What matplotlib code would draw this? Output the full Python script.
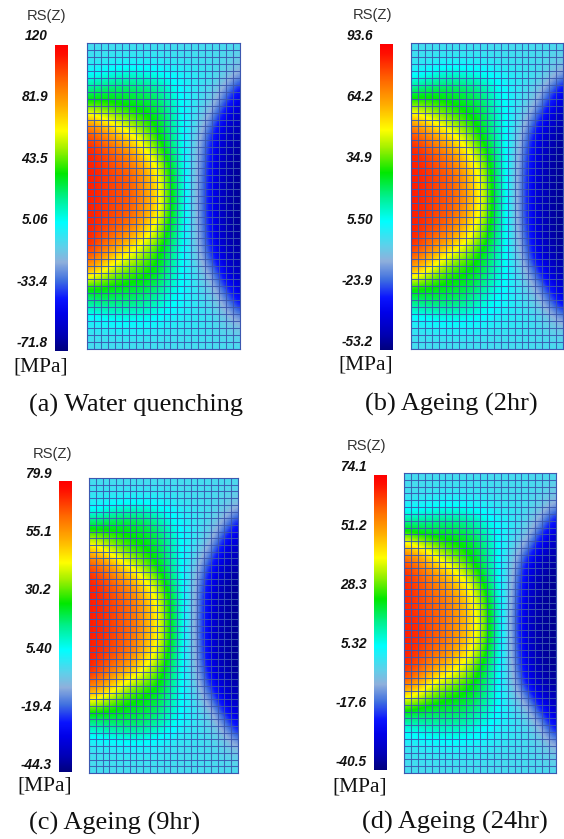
import numpy as np
import matplotlib
matplotlib.use("Agg")
import matplotlib.pyplot as plt
from matplotlib.colors import LinearSegmentedColormap

W, H = 564, 839

captions = ["(a) Water quenching", "(b) Ageing (2hr)", "(c) Ageing (9hr)", "(d) Ageing (24hr)"]
ticks_a = ["120", "81.9", "43.5", "5.06", "-33.4", "-71.8"]
ticks_b = ["93.6", "64.2", "34.9", "5.50", "-23.9", "-53.2"]
ticks_c = ["79.9", "55.1", "30.2", "5.40", "-19.4", "-44.3"]
ticks_d = ["74.1", "51.2", "28.3", "5.32", "-17.6", "-40.5"]
ranges = [(-71.8, 120.0), (-53.2, 93.6), (-44.3, 79.9), (-40.5, 74.1)]

# Field, as percent of each panel's colour scale (top row first)
field_a = [
    [36, 36, 36, 36, 36, 36, 36, 36, 36, 36, 36, 36],
    [37, 37, 38, 38, 38, 38, 37, 37, 36, 36, 35, 33],
    [41, 42, 44, 45, 44, 43, 41, 40, 38, 37, 34, 28],
    [50, 52, 53, 53, 52, 50, 45, 40, 37, 35, 27, 15],
    [60, 60, 58, 57, 56, 54, 48, 41, 37, 32, 19, 9],
    [80, 74, 68, 64, 60, 57, 50, 41, 35, 25, 11, 6],
    [92, 87, 80, 74, 67, 59, 51, 42, 32, 18, 8, 4],
    [96, 92, 88, 83, 74, 64, 53, 42, 30, 15, 6, 3],
    [96, 94, 90, 88, 81, 72, 56, 43, 29, 14, 5, 2],
    [96, 94, 91, 90, 84, 76, 58, 44, 28, 13, 5, 2],
    [96, 94, 91, 90, 84, 77, 59, 44, 28, 13, 5, 2],
    [96, 94, 91, 90, 84, 76, 58, 44, 28, 13, 5, 2],
    [96, 93, 90, 87, 80, 71, 56, 43, 29, 14, 5, 2],
    [96, 90, 85, 80, 72, 64, 53, 42, 30, 15, 6, 3],
    [91, 85, 76, 70, 64, 59, 51, 41, 32, 19, 8, 4],
    [80, 72, 65, 62, 60, 57, 49, 41, 35, 26, 11, 6],
    [58, 58, 57, 56, 55, 52, 46, 41, 37, 32, 19, 9],
    [49, 51, 51, 51, 50, 47, 43, 40, 37, 35, 27, 15],
    [40, 41, 43, 43, 43, 42, 40, 39, 38, 37, 33, 26],
    [37, 37, 38, 38, 38, 38, 37, 37, 37, 36, 35, 34],
    [36, 36, 36, 36, 36, 36, 36, 36, 36, 36, 36, 36],
]
field_b = [
    [36, 36, 36, 36, 36, 36, 36, 36, 36, 36, 36, 36],
    [37, 37, 38, 38, 38, 38, 37, 37, 36, 36, 35, 33],
    [40, 41, 44, 45, 44, 43, 41, 39, 38, 37, 34, 27],
    [50, 53, 54, 54, 53, 50, 45, 40, 37, 34, 25, 13],
    [63, 62, 60, 58, 56, 54, 47, 41, 36, 30, 17, 8],
    [80, 74, 68, 64, 60, 56, 49, 41, 34, 22, 10, 5],
    [92, 86, 80, 73, 66, 58, 50, 41, 30, 15, 7, 3],
    [96, 92, 87, 82, 73, 63, 52, 41, 27, 12, 5, 2],
    [96, 94, 90, 87, 79, 69, 54, 41, 25, 11, 4, 2],
    [96, 94, 91, 89, 82, 72, 55, 41, 24, 10, 4, 2],
    [96, 94, 91, 89, 83, 73, 56, 41, 24, 10, 4, 2],
    [96, 94, 91, 89, 82, 72, 55, 41, 24, 10, 4, 2],
    [96, 93, 90, 86, 79, 68, 54, 41, 25, 11, 4, 2],
    [96, 90, 85, 80, 72, 63, 52, 41, 27, 12, 5, 2],
    [90, 84, 76, 68, 63, 57, 50, 41, 30, 15, 7, 3],
    [80, 72, 64, 60, 58, 55, 48, 41, 34, 22, 10, 5],
    [58, 58, 57, 56, 55, 51, 45, 41, 36, 30, 17, 8],
    [50, 52, 52, 52, 50, 46, 42, 40, 37, 34, 25, 13],
    [40, 41, 43, 43, 43, 42, 40, 39, 38, 37, 33, 26],
    [37, 37, 38, 38, 38, 38, 37, 37, 37, 36, 35, 34],
    [36, 36, 36, 36, 36, 36, 36, 36, 36, 36, 36, 36],
]
field_c = [
    [36, 36, 36, 36, 36, 36, 36, 36, 36, 36, 36, 36],
    [37, 37, 37, 37, 37, 37, 37, 36, 36, 36, 35, 34],
    [40, 41, 44, 45, 45, 43, 41, 38, 37, 36, 34, 29],
    [52, 53, 55, 55, 54, 50, 44, 40, 37, 35, 28, 16],
    [65, 63, 60, 58, 57, 54, 48, 41, 37, 32, 19, 9],
    [80, 74, 67, 62, 59, 56, 49, 41, 35, 25, 11, 6],
    [92, 87, 80, 72, 65, 58, 51, 41, 31, 17, 8, 4],
    [96, 92, 87, 82, 74, 65, 53, 42, 28, 13, 5, 2],
    [96, 94, 90, 87, 80, 71, 56, 43, 26, 11, 4, 2],
    [96, 94, 91, 88, 83, 74, 57, 43, 26, 10, 4, 2],
    [96, 94, 91, 88, 83, 74, 57, 43, 25, 10, 4, 2],
    [96, 94, 91, 88, 82, 74, 57, 43, 26, 10, 4, 2],
    [96, 93, 90, 86, 79, 70, 55, 42, 27, 11, 4, 2],
    [96, 90, 85, 80, 72, 64, 53, 42, 29, 13, 5, 2],
    [88, 84, 76, 68, 63, 59, 51, 41, 32, 17, 8, 4],
    [74, 70, 63, 59, 57, 55, 49, 41, 35, 25, 11, 6],
    [56, 56, 56, 55, 55, 52, 47, 41, 37, 32, 19, 9],
    [46, 48, 50, 51, 50, 47, 43, 39, 37, 35, 28, 15],
    [38, 39, 40, 41, 41, 40, 38, 37, 37, 36, 34, 27],
    [36, 36, 37, 37, 37, 37, 37, 36, 36, 36, 35, 34],
    [36, 36, 36, 36, 36, 36, 36, 36, 36, 36, 36, 36],
]
field_d = [
    [36, 36, 36, 36, 36, 36, 36, 36, 36, 36, 36, 36],
    [36, 36, 37, 37, 37, 37, 37, 36, 36, 36, 35, 33],
    [38, 38, 39, 40, 40, 39, 38, 37, 37, 36, 34, 29],
    [47, 47, 49, 49, 49, 47, 43, 40, 38, 35, 28, 16],
    [60, 57, 55, 56, 55, 53, 47, 41, 37, 32, 19, 8],
    [80, 74, 68, 61, 59, 56, 50, 41, 34, 24, 10, 5],
    [92, 87, 78, 72, 65, 58, 51, 41, 30, 14, 6, 3],
    [96, 90, 86, 81, 74, 66, 53, 42, 27, 11, 4, 2],
    [96, 92, 88, 85, 80, 72, 57, 43, 25, 9, 3, 2],
    [96, 92, 89, 87, 82, 75, 60, 44, 24, 8, 3, 2],
    [96, 94, 90, 87, 82, 76, 61, 44, 23, 8, 3, 2],
    [96, 94, 90, 87, 82, 75, 60, 44, 24, 8, 3, 2],
    [96, 93, 88, 85, 79, 71, 57, 43, 25, 9, 3, 2],
    [95, 90, 84, 78, 72, 64, 53, 42, 27, 11, 4, 2],
    [90, 82, 72, 67, 63, 58, 51, 41, 30, 14, 6, 3],
    [72, 68, 62, 59, 57, 55, 49, 41, 34, 24, 10, 5],
    [56, 54, 53, 53, 53, 50, 46, 41, 37, 32, 19, 8],
    [44, 45, 47, 47, 47, 45, 42, 39, 38, 36, 29, 14],
    [38, 39, 40, 41, 41, 40, 39, 38, 37, 36, 34, 27],
    [36, 37, 37, 37, 37, 37, 37, 36, 36, 36, 35, 33],
    [36, 36, 36, 36, 36, 36, 36, 36, 36, 36, 36, 36],
]
fields = [field_a, field_b, field_c, field_d]
tick_sets = [ticks_a, ticks_b, ticks_c, ticks_d]

# Layout in reference pixels: (left, right, top, bottom)
field_boxes = [(87, 240, 43, 349), (411, 563, 43, 349), (89, 238, 478, 773), (404, 556, 473, 773)]
bar_boxes = [(55, 68, 45, 351), (380, 393, 44, 350), (59, 72, 481, 772), (374, 387, 475, 770)]
label_right = [48, 373, 52, 367]
label_span = [(36, 343), (36, 342), (474, 765), (467, 762)]
rs_pos = [(47, 16), (372, 15), (52, 454), (367, 446)]
mpa_pos = [(41, 367), (366, 365), (45, 786), (360, 787)]
cap_pos = [(136, 405), (451, 404), (115, 823), (455, 822)]
n_cols, n_rows = 22, 44

cmap = LinearSegmentedColormap.from_list("rs", [
    (0.00, "#00007f"), (0.05, "#0000b4"), (0.12, "#0000e8"), (0.17, "#0a14ff"), (0.23, "#4070e0"),
    (0.29, "#8fb0dc"), (0.34, "#5fd0ea"), (0.42, "#00ffff"), (0.50, "#00f090"),
    (0.58, "#00e800"), (0.66, "#a0f000"), (0.72, "#ffff00"), (0.80, "#ffb000"),
    (0.88, "#ff6a00"), (0.97, "#ff1000"), (1.00, "#ff0000"),
])
grid_col = "#3c58b0"


def box_axes(fig, box):
    l, r, t, b = box
    return fig.add_axes([l / W, 1 - b / H, (r - l) / W, (b - t) / H])


fig = plt.figure(figsize=(W / 100, H / 100), dpi=100, facecolor="white")

for i in range(4):
    vmin, vmax = ranges[i]
    pct = np.array(fields[i], dtype=float)
    vals = vmin + pct / 100 * (vmax - vmin)
    ny, nx = vals.shape

    ax = box_axes(fig, field_boxes[i])
    dx, dy = 0.5 / (nx - 1), 0.5 / (ny - 1)
    ax.imshow(vals, extent=(-dx, 1 + dx, 1 + dy, -dy), cmap=cmap, vmin=vmin, vmax=vmax,
              interpolation="bicubic", aspect="auto")
    ax.set_xlim(0, 1)
    ax.set_ylim(1, 0)
    ax.vlines(np.linspace(0, 1, n_cols + 1), 0, 1, color=grid_col, lw=0.75, alpha=0.9)
    ax.hlines(np.linspace(0, 1, n_rows + 1), 0, 1, color=grid_col, lw=0.75, alpha=0.9)
    ax.set_xticks([])
    ax.set_yticks([])
    for s in ax.spines.values():
        s.set_color(grid_col)
        s.set_linewidth(0.8)

    cb = box_axes(fig, bar_boxes[i])
    cb.imshow(np.linspace(vmax, vmin, 256)[:, None], cmap=cmap, vmin=vmin, vmax=vmax, aspect="auto",
              extent=(0, 1, vmin, vmax))
    cb.set_xticks([])
    cb.set_yticks([])
    for s in cb.spines.values():
        s.set_visible(False)

overlay = fig.add_axes([0, 0, 1, 1], facecolor="none")
overlay.set_xlim(0, W)
overlay.set_ylim(H, 0)
overlay.axis("off")

for i in range(4):
    top, bot = label_span[i]
    for lab, y in zip(tick_sets[i], np.linspace(top, bot, 6)):
        overlay.text(label_right[i], y, lab, ha="right", va="center", family="Liberation Sans",
                     style="italic", weight="bold", fontsize=9.8, color="#111111")
    overlay.text(*rs_pos[i], "RS(Z)", ha="center", va="center", family="Liberation Sans",
                 fontsize=10.6, color="#333333")
    overlay.text(*mpa_pos[i], "[MPa]", ha="center", va="center", family="Liberation Serif",
                 fontsize=15.5, color="#111111")
    overlay.text(*cap_pos[i], captions[i], ha="center", va="center", family="Liberation Serif",
                 fontsize=19, color="#111111")

fig.savefig("out.png", dpi=100, facecolor="white")
